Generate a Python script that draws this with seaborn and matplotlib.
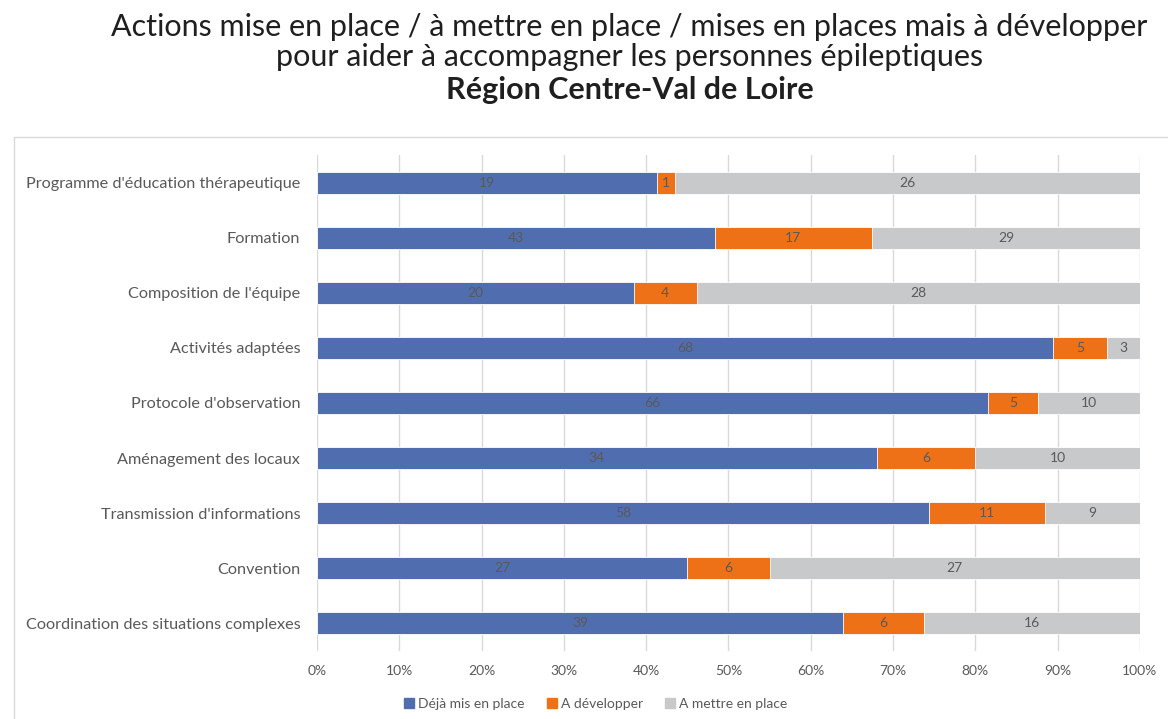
import matplotlib
matplotlib.use("Agg")
import matplotlib.pyplot as plt
import seaborn as sns
import pandas as pd
import numpy as np
from matplotlib.patches import Rectangle
from matplotlib.ticker import PercentFormatter

actions = [
    "Programme d'éducation thérapeutique",
    "Formation",
    "Composition de l'équipe",
    "Activités adaptées",
    "Protocole d'observation",
    "Aménagement des locaux",
    "Transmission d'informations",
    "Convention",
    "Coordination des situations complexes",
]
deja_en_place = [19, 43, 20, 68, 66, 34, 58, 27, 39]
a_developper = [1, 17, 4, 5, 5, 6, 11, 6, 6]
a_mettre_en_place = [26, 29, 28, 3, 10, 10, 9, 27, 16]

series_names = ["Déjà mis en place", "A développer", "A mettre en place"]
colors = ["#506EAF", "#EF7117", "#C8C9CA"]
text_grey = "#595959"

sns.set_theme(style="white")
plt.rcParams["font.family"] = ["Lato", "DejaVu Sans"]

counts = np.array([deja_en_place, a_developper, a_mettre_en_place], dtype=float)
totals = counts.sum(axis=0)
shares = counts / totals
cum = np.cumsum(shares, axis=0)

fig = plt.figure(figsize=(11.68, 7.19), dpi=100)
ax = fig.add_axes([0.2714, 0.0946, 0.7046, 0.6898])

# Stacked bars: draw cumulative widths from the longest segment down
for i in range(2, -1, -1):
    df = pd.DataFrame({"action": actions, "share": cum[i]})
    sns.barplot(data=df, x="share", y="action", orient="h", color=colors[i],
                width=0.4, edgecolor="white", linewidth=0.6, saturation=1,
                ax=ax, zorder=2)

# Value labels centred in each segment
for i in range(3):
    starts = cum[i] - shares[i]
    for j in range(len(actions)):
        ax.text(starts[j] + shares[i, j] / 2, j, f"{int(counts[i, j])}",
                ha="center", va="center", fontsize=10, color=text_grey,
                zorder=3)

ax.set_xlim(0, 1)
ax.set_ylim(len(actions) - 0.5, -0.5)
ax.set_xticks(np.arange(0, 1.01, 0.1))
ax.xaxis.set_major_formatter(PercentFormatter(1.0, decimals=0))
ax.grid(axis="x", color="#D9D9D9", linewidth=1, zorder=0)
ax.grid(axis="y", visible=False)
ax.set_axisbelow(True)
sns.despine(ax=ax, left=True, bottom=True)
ax.set_xlabel("")
ax.set_ylabel("")
ax.tick_params(axis="x", length=0, pad=10, labelsize=10, labelcolor=text_grey)
ax.tick_params(axis="y", length=0, pad=12, labelsize=11.7, labelcolor=text_grey)

# Legend below the axis
handles = [Rectangle((0, 0), 1, 1, color=c) for c in colors]
fig.legend(handles, series_names, loc="center", bbox_to_anchor=(0.51, 0.021),
           ncol=3, frameon=False, fontsize=10, labelcolor=text_grey,
           handlelength=0.7, handleheight=0.7, handletextpad=0.3,
           columnspacing=1.6)

# Chart area frame
fig.patches.append(Rectangle((14 / 1168, -0.01), 1.0, 1 - 137 / 719 + 0.01,
                             transform=fig.transFigure, fill=False,
                             edgecolor="#D9D9D9", linewidth=1, zorder=0))

# Title block
title_color = "#1f1f1f"
fig.text(0.539, 1 - 27 / 719, "Actions mise en place / à mettre en place / mises en places mais à développer",
         ha="center", va="center", fontsize=22, fontweight="normal", color=title_color)
fig.text(0.539, 1 - 57 / 719, "pour aider à accompagner les personnes épileptiques",
         ha="center", va="center", fontsize=22, fontweight="normal", color=title_color)
fig.text(0.539, 1 - 90 / 719, "Région Centre-Val de Loire",
         ha="center", va="center", fontsize=22, fontweight="bold", color=title_color)

fig.savefig("out.png", dpi=100)
